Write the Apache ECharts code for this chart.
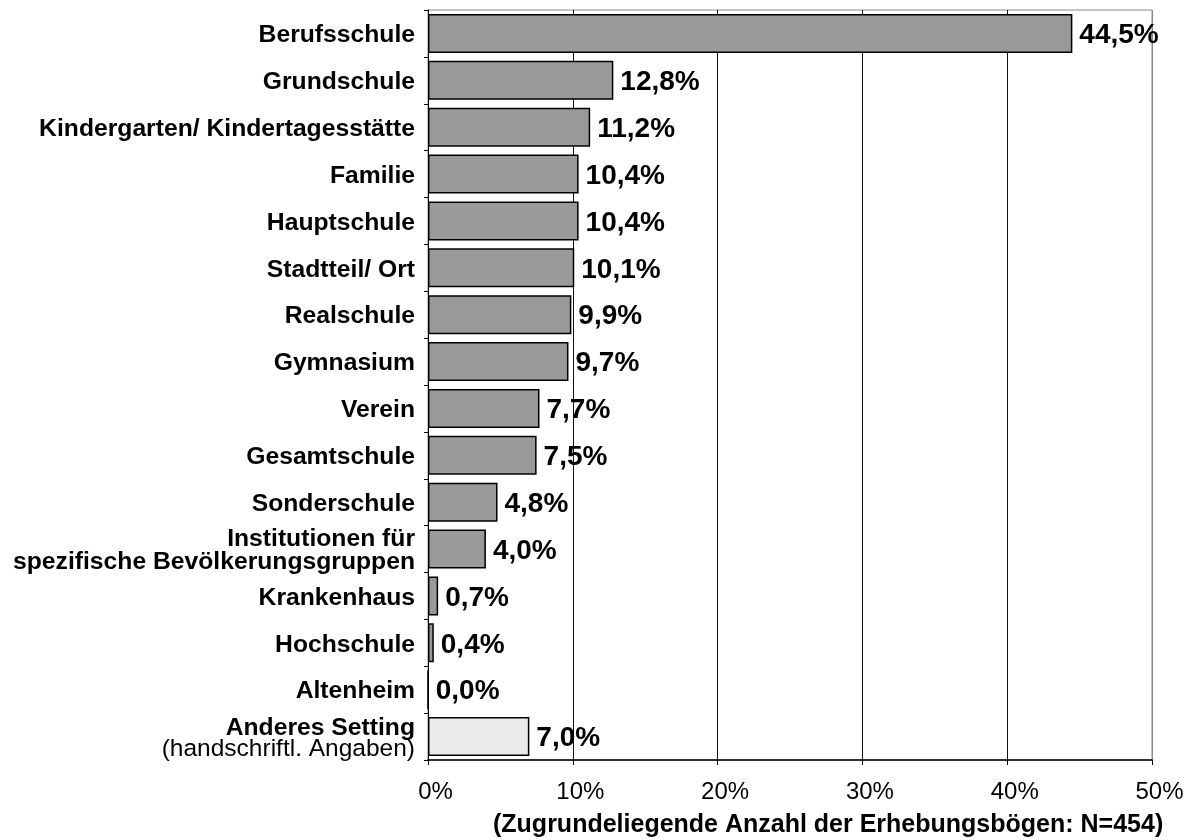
<!DOCTYPE html>
<html>
<head>
<meta charset="utf-8">
<script src="https://cdn.jsdelivr.net/npm/echarts@6/dist/echarts.min.js"></script>
<style>
  html, body { margin: 0; padding: 0; background: #fff; }
  #main { width: 1196px; height: 840px; }
</style>
</head>
<body>
<div id="main"></div>
<script>
// Kategorien (von oben nach unten)
var categories = [
  'Berufsschule', 'Grundschule', 'Kindergarten/ Kindertagesstätte', 'Familie',
  'Hauptschule', 'Stadtteil/ Ort', 'Realschule', 'Gymnasium', 'Verein',
  'Gesamtschule', 'Sonderschule', 'Institutionen für\nspezifische Bevölkerungsgruppen',
  'Krankenhaus', 'Hochschule', 'Altenheim', 'Anderes Setting'
];
// Anteile in Prozent
var values = [44.5, 12.8, 11.2, 10.4, 10.4, 10.1, 9.9, 9.7, 7.7, 7.5, 4.8, 4.0, 0.7, 0.4, 0.0, 7.0];
var xTicks = [0, 10, 20, 30, 40, 50];
var axisTitle = '(Zugrundeliegende Anzahl der Erhebungsbögen: N=454)';

var FONT = '"Liberation Sans", Arial, sans-serif';

var myChart = echarts.init(document.getElementById('main'));

// letzter Balken (Anderes Setting) hell
var seriesData = values.map(function (v, i) {
  var last = i === values.length - 1;
  return {
    value: v,
    itemStyle: { color: last ? '#ebebeb' : '#999999' }
  };
});

myChart.setOption({
  animation: false,
  title: {
    text: axisTitle,
    left: 488,
    top: 808,
    textStyle: { fontFamily: FONT, fontSize: 25, fontWeight: 'bold', color: '#000' }
  },
  grid: {
    left: 428, right: 44, top: 10, bottom: 80,
    show: true, borderColor: '#888', borderWidth: 1
  },
  xAxis: {
    type: 'value',
    min: xTicks[0],
    max: xTicks[xTicks.length - 1],
    interval: 10,
    axisLine: { show: true, lineStyle: { color: '#000', width: 1.5 } },
    axisTick: { show: true, length: 5, lineStyle: { color: '#000' } },
    axisLabel: {
      fontFamily: FONT, fontSize: 24, color: '#000', margin: 20,
      padding: [0, 0, 0, 15],
      formatter: function (v) { return v + '%'; }
    },
    splitLine: {
      show: true,
      lineStyle: { color: ['#000', '#111', '#111', '#111', '#111', '#888'], width: 1 }
    }
  },
  yAxis: {
    type: 'category',
    inverse: true,
    data: categories,
    axisLine: { show: true, lineStyle: { color: '#000' } },
    axisTick: { show: true, length: 4, lineStyle: { color: '#000' } },
    axisLabel: {
      fontFamily: FONT, fontSize: 24.7, fontWeight: 'bold', color: '#000',
      margin: 13, lineHeight: 23, padding: [4, 0, 0, 0],
      formatter: function (v) {
        if (v === 'Anderes Setting') {
          return '{b|Anderes Setting}\n{n|(handschriftl. Angaben)}';
        }
        return v;
      },
      rich: {
        b: { fontFamily: FONT, fontSize: 24.7, fontWeight: 'bold', color: '#000', lineHeight: 21, align: 'right' },
        n: { fontFamily: FONT, fontSize: 24.5, fontWeight: 'normal', color: '#000', lineHeight: 21, align: 'right' }
      }
    }
  },
  series: [{
    type: 'bar',
    data: seriesData,
    barCategoryGap: '17%',
    itemStyle: { borderColor: '#000', borderWidth: 1.5 },
    label: {
      show: true,
      position: 'right',
      distance: 7,
      offset: [0, 2],
      fontFamily: FONT,
      fontSize: 28,
      fontWeight: 'bold',
      color: '#000',
      formatter: function (p) { return p.value.toFixed(1).replace('.', ',') + '%'; }
    }
  }]
});
</script>
</body>
</html>
